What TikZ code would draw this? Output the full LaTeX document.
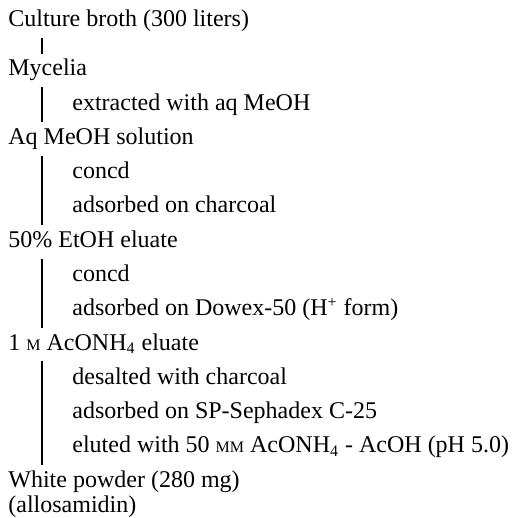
\documentclass[tikz,border=0pt]{standalone}
\usepackage{fontspec}
\setmainfont{Liberation Serif}
\usetikzlibrary{positioning}
\newcommand{\smcap}[1]{{\fontsize{8}{10}\selectfont #1}}
\tikzset{
  stage/.style={anchor=base west, inner sep=0pt, text height=11pt, text depth=5.5pt}, % Zwischenprodukte
  treat/.style={anchor=base west, inner sep=0pt}, % Behandlungsschritte
  flow/.style={line width=.6pt} % senkrechte Linien
}

\begin{document}
\begin{tikzpicture}[
x=0.5pt, y=-0.5pt,
font=\fontsize{12}{14}\selectfont
]
\useasboundingbox (0,0) rectangle (514,518);

%Stufen
\node[stage] (broth)   at (8,27)     {Culture broth (300 liters)};
\node[stage] (mycelia) at (8,76)     {Mycelia};
\node[stage] (aqmeoh)  at (8,144.5)  {Aq MeOH solution};
\node[stage] (etoh)    at (8,247.25) {50\% EtOH eluate};
\node[stage] (acnh)    at (8,350)    {1 \smcap{M} AcONH\textsubscript{4} eluate};
\node[stage] (powder)  at (8,487)    {White powder (280 mg)};
\node[stage] (allo)    at (8,512)    {(allosamidin)};

%Behandlungen
\node[treat] (extr)    at (72,110.25) {extracted with aq MeOH};
\node[treat] (concA)   at (72,178.75) {concd};
\node[treat] (charc)   at (72,213)    {adsorbed on charcoal};
\node[treat] (concB)   at (72,281.5)  {concd};
\node[treat] (dowex)   at (72,315.75) {adsorbed on Dowex-50 (H\textsuperscript{+} form)};
\node[treat] (desalt)  at (72,384.25) {desalted with charcoal};
\node[treat] (sephad)  at (72,418.5)  {adsorbed on SP-Sephadex C-25};
\node[treat] (elut)    at (72,452.75) {eluted with 50 \smcap{MM} AcONH\textsubscript{4} - AcOH (pH 5.0)};

%Verbindungslinien
\draw[flow] ([xshift=17pt]broth.south west)   -- ([xshift=17pt]mycelia.north west);
\draw[flow] ([xshift=17pt]mycelia.south west) -- ([xshift=17pt]aqmeoh.north west);
\draw[flow] ([xshift=17pt]aqmeoh.south west)  -- ([xshift=17pt]etoh.north west);
\draw[flow] ([xshift=17pt]etoh.south west)    -- ([xshift=17pt]acnh.north west);
\draw[flow] ([xshift=17pt]acnh.south west)    -- ([xshift=17pt]powder.north west);

\end{tikzpicture}
\end{document}
